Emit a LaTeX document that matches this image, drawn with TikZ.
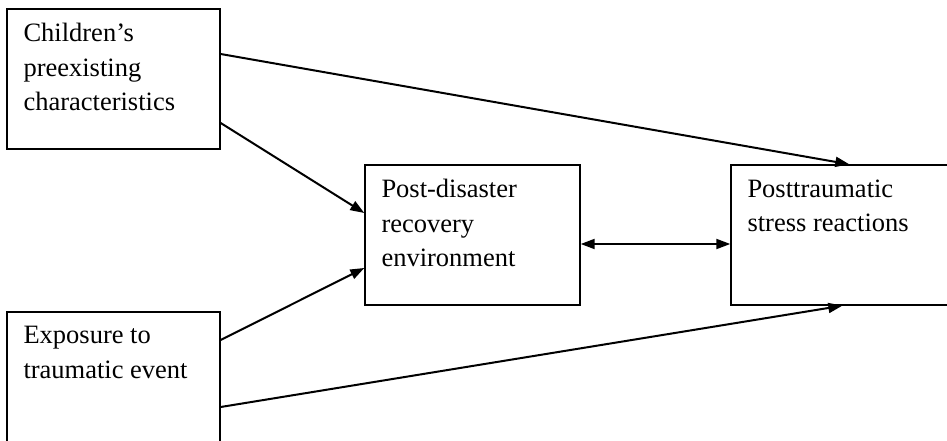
\documentclass[tikz,border=0pt]{standalone}
\usepackage{fontspec}
\setmainfont{Liberation Serif}
\usetikzlibrary{arrows.meta,positioning}

\begin{document}
\begin{tikzpicture}[
  x=1pt, y=-1pt,
  font=\fontsize{26.5}{34.5}\selectfont,
  >={Triangle[length=14pt,width=10pt]},
  box/.style={draw, line width=1.4pt, inner sep=0pt},
  txt/.style={anchor=north west, align=left, inner sep=0pt},
  link/.style={->, line width=2pt}
]
\clip (0,0) rectangle (947,441);

% boxes
\node[box, minimum width=213pt, minimum height=140pt] (kids) at (113.5,79) {};
\node[box, minimum width=213pt, minimum height=148pt] (expo) at (113.5,386) {};
\node[box, minimum width=215pt, minimum height=140pt] (recov) at (472.5,235) {};
\node[box, minimum width=229pt, minimum height=140pt] (ptsr) at (845.5,235) {};

% texts
\node[txt] (kidsT) at ([xshift=17pt,yshift=-15pt]kids.north west)
  {Children’s\\preexisting\\characteristics};
\node[txt] (expoT) at ([xshift=17pt,yshift=-15pt]expo.north west)
  {Exposure to\\traumatic event};
\node[txt] (recovT) at ([xshift=17pt,yshift=-15pt]recov.north west)
  {Post-disaster\\recovery\\environment};
\node[txt] (ptsrT) at ([xshift=17pt,yshift=-15pt]ptsr.north west)
  {Posttraumatic\\stress reactions};

% paths
\draw[link] ([yshift=25pt]kids.east) -- ([xshift=119pt]ptsr.north west);
\draw[link] ([yshift=-44pt]kids.east) -- ([yshift=22pt]recov.west);
\draw[link] ([yshift=46pt]expo.east) -- ([yshift=-33pt]recov.west);
\draw[link] ([yshift=-21pt]expo.east) -- ([xshift=112pt]ptsr.south west);
\draw[link, <->] ([yshift=-9pt]recov.east) -- ([yshift=-9pt]ptsr.west);
\end{tikzpicture}
\end{document}
